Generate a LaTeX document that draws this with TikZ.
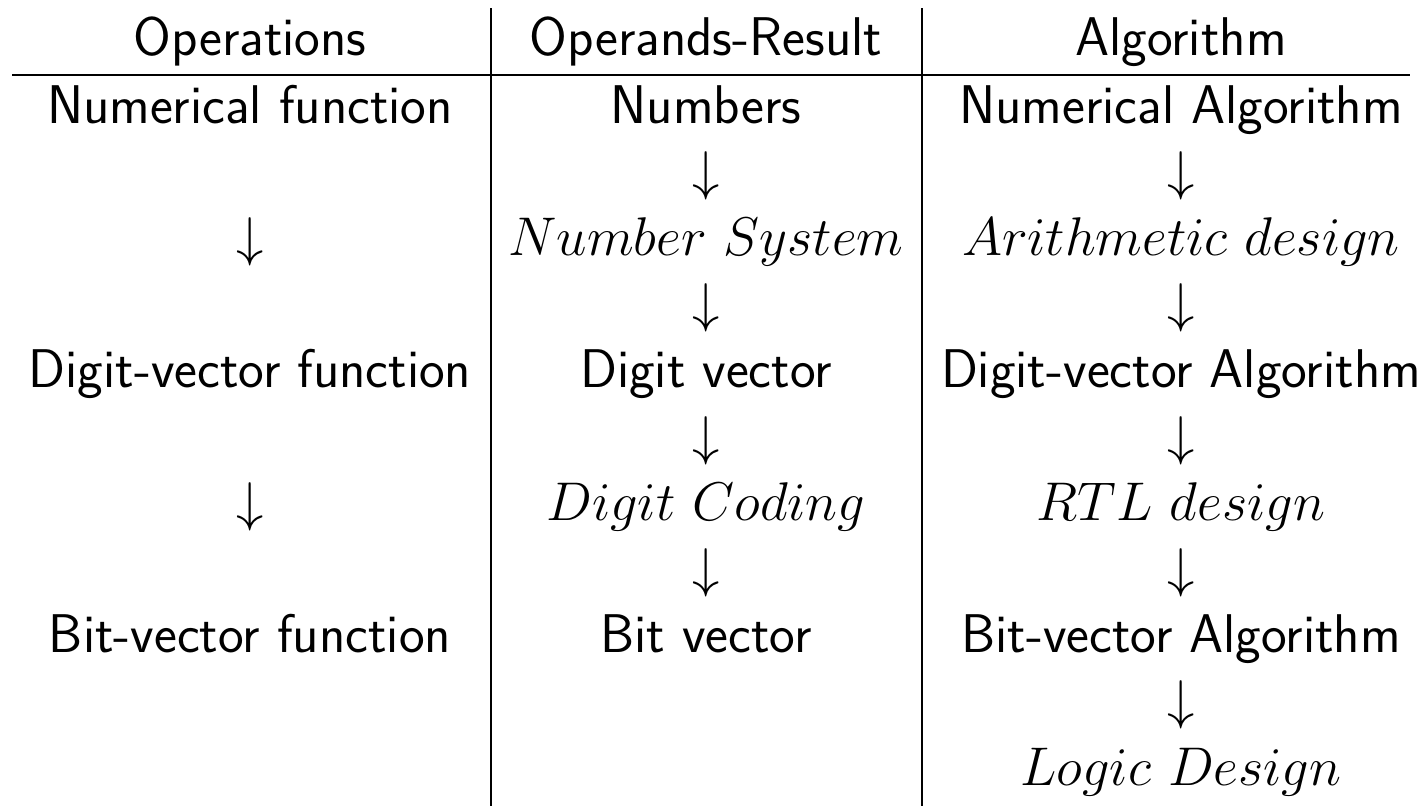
\documentclass[tikz,border=0pt]{standalone}
\begin{document}
\begin{tikzpicture}[x=0.3805pt,y=-0.3805pt,
  cell/.style={anchor=base,inner sep=0pt,font=\fontsize{20.74}{25}\selectfont\sffamily},
  rule/.style={line width=1.03pt}]
\useasboundingbox (0,0) rectangle (1421,808);
\def\ca{250}\def\cb{706}\def\cc{1181}
% header
\node[cell] (h1) at (\ca,55) {Operations};
\node[cell] (h2) at (\cb,55) {Operands-Result};
\node[cell] (h3) at (\cc,55) {Algorithm};
% rules
\draw[rule] (12,75) -- (1410,75);
\draw[rule] (491,8) -- (491,806);
\draw[rule] (922,8) -- (922,806);
% column 1
\node[cell] (a1) at (\ca,123.0) {Numerical function};
\node[cell] (a3) at (\ca,255.4) {$\downarrow$};
\node[cell] (a5) at (\ca,387.8) {Digit-vector function};
\node[cell] (a7) at (\ca,520.2) {$\downarrow$};
\node[cell] (a9) at (\ca,652.6) {Bit-vector function};
% column 2
\node[cell] (b1) at (\cb,123.0) {Numbers};
\node[cell] (b2) at (\cb,189.2) {$\downarrow$};
\node[cell] (b3) at (\cb,255.4) {$Number\ System$};
\node[cell] (b4) at (\cb,321.6) {$\downarrow$};
\node[cell] (b5) at (\cb,387.8) {Digit vector};
\node[cell] (b6) at (\cb,454.0) {$\downarrow$};
\node[cell] (b7) at (\cb,520.2) {$Digit\ Coding$};
\node[cell] (b8) at (\cb,586.4) {$\downarrow$};
\node[cell] (b9) at (\cb,652.6) {Bit vector};
% column 3
\node[cell] (c1) at (\cc,123.0) {Numerical Algorithm};
\node[cell] (c2) at (\cc,189.2) {$\downarrow$};
\node[cell] (c3) at (\cc,255.4) {$Arithmetic\ design$};
\node[cell] (c4) at (\cc,321.6) {$\downarrow$};
\node[cell] (c5) at (\cc,387.8) {Digit-vector Algorithm};
\node[cell] (c6) at (\cc,454.0) {$\downarrow$};
\node[cell] (c7) at (\cc,520.2) {$RTL\ design$};
\node[cell] (c8) at (\cc,586.4) {$\downarrow$};
\node[cell] (c9) at (\cc,652.6) {Bit-vector Algorithm};
\node[cell] (c10) at (\cc,718.8) {$\downarrow$};
\node[cell] (c11) at (\cc,785.0) {$Logic\ Design$};
\end{tikzpicture}
\end{document}
